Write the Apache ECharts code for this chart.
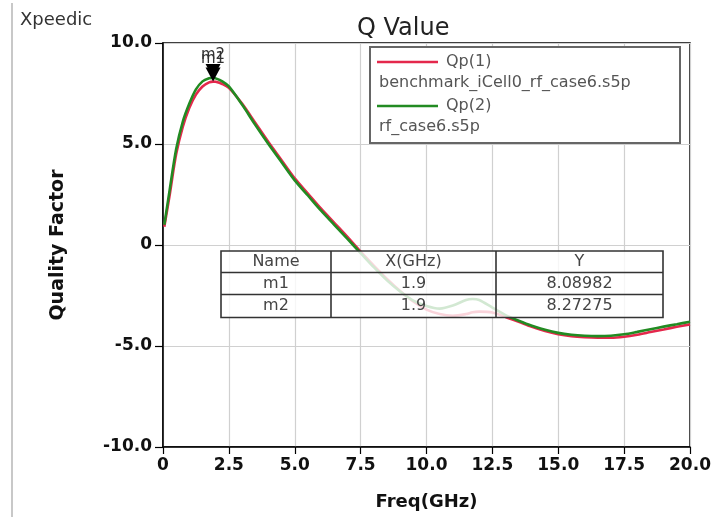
<!DOCTYPE html>
<html>
<head>
<meta charset="utf-8">
<script src="https://cdn.jsdelivr.net/npm/echarts@6/dist/echarts.min.js"></script>
<style>
html,body{margin:0;padding:0;background:#fff;}
#chart{width:715px;height:519px;}
</style>
</head>
<body>
<div id="chart"></div>
<script>
// ---- data ----
const freq = [0.05, 0.25, 0.5, 0.75, 1.0, 1.25, 1.5, 1.75, 1.9, 2.0, 2.25, 2.5, 3.0, 3.5, 4.0, 4.5, 5.0, 5.5, 6.0, 6.5, 7.0, 7.5, 8.0, 8.5, 9.0, 9.5, 10.0, 10.5, 11.0, 11.5, 11.75, 12.0, 12.5, 13.0, 13.5, 14.0, 14.5, 15.0, 15.5, 16.0, 16.5, 17.0, 17.5, 18.0, 18.5, 19.0, 19.5, 20.0];
const qp1 = [0.9, 2.45, 4.5, 5.85, 6.8, 7.45, 7.85, 8.05, 8.08982, 8.08, 7.97, 7.78, 7.0, 6.05, 5.1, 4.2, 3.3, 2.55, 1.8, 1.1, 0.4, -0.33, -1.02, -1.68, -2.28, -2.8, -3.2, -3.42, -3.5, -3.42, -3.33, -3.3, -3.34, -3.56, -3.8, -4.05, -4.26, -4.42, -4.52, -4.57, -4.59, -4.59, -4.54, -4.44, -4.31, -4.18, -4.05, -3.93];
const qp2 = [1.0, 2.7, 4.75, 6.1, 7.0, 7.7, 8.1, 8.25, 8.27275, 8.25, 8.1, 7.85, 6.95, 5.95, 5.0, 4.1, 3.2, 2.45, 1.7, 1.0, 0.3, -0.4, -1.1, -1.75, -2.3, -2.75, -3.02, -3.15, -3.0, -2.72, -2.67, -2.72, -3.1, -3.47, -3.75, -4.0, -4.2, -4.35, -4.44, -4.49, -4.51, -4.49, -4.42, -4.3, -4.17, -4.04, -3.92, -3.8];
const seriesNames = ['Qp(1)', 'Qp(2)'];
const fileNames = ['benchmark_iCell0_rf_case6.s5p', 'rf_case6.s5p'];
const markerNames = ['m1', 'm2'];
const markerX = [1.9, 1.9];
const markerY = [8.08982, 8.27275];
const markerYText = ['8.08982', '8.27275'];
const tableHeader = ['Name', 'X(GHz)', 'Y'];
const titleText = 'Q Value';
const brandText = 'Xpeedic';
const xName = 'Freq(GHz)';
const yName = 'Quality Factor';

// ---- styles ----
const colors = ['#e4284c', '#228b22'];
const FONT = 'DejaVu Sans';
const TOP = 100;

const chart = echarts.init(document.getElementById('chart'), null, {renderer: 'canvas'});

function fmt(v) { return v === 0 ? '0' : v.toFixed(1); }

function makeSeries(i, ys) {
  return {
    name: seriesNames[i],
    type: 'line',
    data: freq.map((f, k) => [f, ys[k]]),
    smooth: 0.3,
    showSymbol: false,
    lineStyle: {color: colors[i], width: 2.6},
    itemStyle: {color: colors[i]},
    z: 2 + i,
    markPoint: {
      symbol: 'triangle',
      symbolSize: [15, 14],
      symbolRotate: 180,
      symbolOffset: [0, '-50%'],
      itemStyle: {color: '#000'},
      label: {show: true, position: 'top', distance: 1, formatter: '{b}', color: '#333', fontFamily: FONT, fontSize: 15},
      data: [{name: markerNames[i], coord: [markerX[i], markerY[i]]}]
    }
  };
}

// legend box (graphic)
const lg = {x: 370, y: 47, w: 310, h: 96};
const legendEls = [
  {type: 'rect', z: TOP, shape: {x: lg.x, y: lg.y, width: lg.w, height: lg.h}, style: {fill: '#fff', stroke: '#666', lineWidth: 2}},
];
[0, 1].forEach(i => {
  const yy = lg.y + 15 + i * 44;
  legendEls.push({type: 'line', z: TOP, shape: {x1: lg.x + 7, y1: yy, x2: lg.x + 68, y2: yy}, style: {stroke: colors[i], lineWidth: 2.5}});
  legendEls.push({type: 'text', z: TOP, x: lg.x + 76, y: yy, style: {text: seriesNames[i], fill: '#555', font: '16px ' + FONT, textVerticalAlign: 'middle'}});
  legendEls.push({type: 'text', z: TOP, x: lg.x + 9, y: yy + 21, style: {text: fileNames[i], fill: '#555', font: '16px ' + FONT, textVerticalAlign: 'middle'}});
});

// marker table (graphic)
const tb = {cols: [221, 331, 496, 663], rows: [251, 272.5, 294.5, 317.5]};
const tableEls = [
  {type: 'rect', z: TOP, shape: {x: tb.cols[0], y: tb.rows[0], width: tb.cols[3] - tb.cols[0], height: tb.rows[3] - tb.rows[0]}, style: {fill: 'rgba(255,255,255,0.8)', stroke: '#333', lineWidth: 1.6}}
];
[1, 2].forEach(r => tableEls.push({type: 'line', z: TOP, shape: {x1: tb.cols[0], y1: tb.rows[r], x2: tb.cols[3], y2: tb.rows[r]}, style: {stroke: '#333', lineWidth: 1.6}}));
[1, 2].forEach(c => tableEls.push({type: 'line', z: TOP, shape: {x1: tb.cols[c], y1: tb.rows[0], x2: tb.cols[c], y2: tb.rows[3]}, style: {stroke: '#333', lineWidth: 1.6}}));
const cells = [tableHeader].concat(markerNames.map((n, i) => [n, String(markerX[i]), markerYText[i]]));
cells.forEach((row, r) => row.forEach((txt, c) => {
  tableEls.push({type: 'text', z: TOP, x: (tb.cols[c] + tb.cols[c + 1]) / 2, y: (tb.rows[r] + tb.rows[r + 1]) / 2,
    style: {text: txt, fill: '#444', font: '16px ' + FONT, textAlign: 'center', textVerticalAlign: 'middle'}});
}));

const option = {
  backgroundColor: '#fff',
  animation: false,
  title: {text: titleText, left: 352, top: 12, textStyle: {fontFamily: FONT, fontSize: 24, fontWeight: 'normal', color: '#222'}},
  grid: {left: 163, top: 43, right: 25, bottom: 72, show: true, borderColor: '#000', borderWidth: 1.5, backgroundColor: 'transparent'},
  xAxis: {
    type: 'value', min: 0, max: 20, interval: 2.5,
    name: xName, nameLocation: 'middle', nameGap: 46,
    nameTextStyle: {fontFamily: FONT, fontSize: 18, fontWeight: 'bold', color: '#111'},
    axisLine: {show: true, onZero: false, lineStyle: {color: '#000', width: 1.5}},
    axisTick: {show: true, length: 7, lineStyle: {color: '#000', width: 1.2}},
    axisLabel: {formatter: fmt, margin: 10, fontFamily: FONT, fontSize: 17, fontWeight: 'bold', color: '#111'},
    splitLine: {show: true, lineStyle: {color: '#d0d0d0', width: 1.2}}
  },
  yAxis: {
    type: 'value', min: -10, max: 10, interval: 5,
    name: yName, nameLocation: 'middle', nameGap: 95, nameRotate: 90,
    nameTextStyle: {fontFamily: FONT, fontSize: 19, fontWeight: 'bold', color: '#111'},
    axisLine: {show: true, onZero: false, lineStyle: {color: '#000', width: 1.5}},
    axisTick: {show: true, length: 8, lineStyle: {color: '#000', width: 1.2}},
    axisLabel: {formatter: fmt, margin: 11, fontFamily: FONT, fontSize: 17, fontWeight: 'bold', color: '#111'},
    splitLine: {show: true, lineStyle: {color: '#d0d0d0', width: 1.2}}
  },
  series: [makeSeries(0, qp1), makeSeries(1, qp2)],
  graphic: [
    {type: 'line', z: TOP, shape: {x1: 12, y1: 3, x2: 12, y2: 517}, style: {stroke: '#c8c8c8', lineWidth: 2}},
    {type: 'text', z: TOP, x: 20, y: 20, style: {text: brandText, fill: '#333', font: '18px ' + FONT, textVerticalAlign: 'middle'}},
    {type: 'group', z: TOP, children: legendEls},
    {type: 'group', z: TOP, children: tableEls}
  ]
};
chart.setOption(option);
</script>
</body>
</html>
